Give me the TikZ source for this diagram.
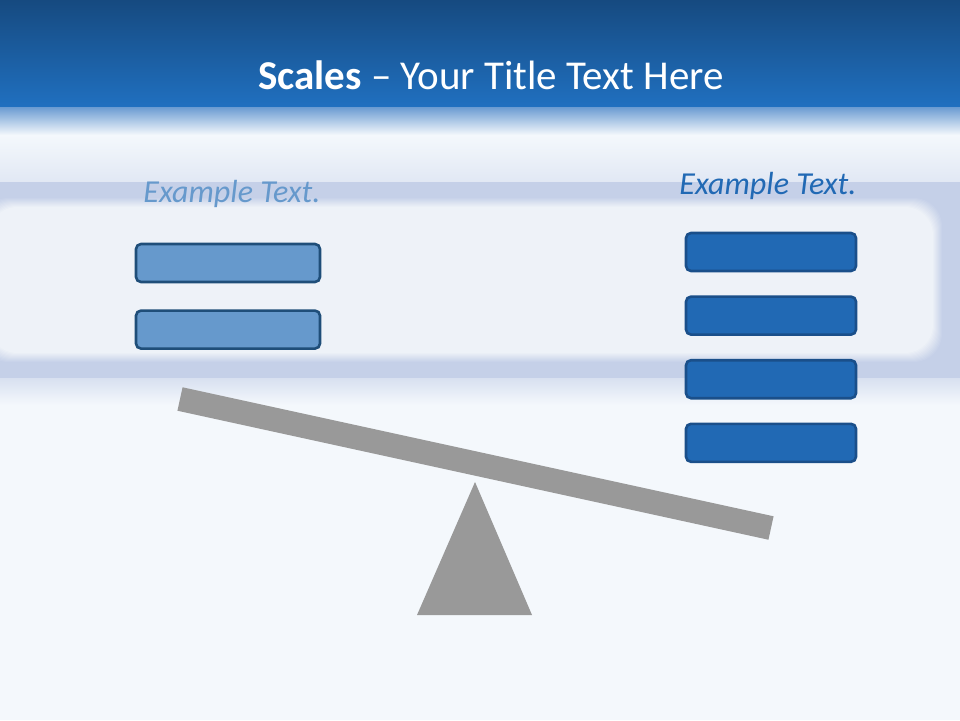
\documentclass[tikz,border=0pt]{standalone}
\usepackage{fontspec}
\setmainfont{Carlito}
\usetikzlibrary{positioning}
\definecolor{bandtop}{HTML}{164A80}
\definecolor{bandbot}{HTML}{2070C0}
\definecolor{paper}{HTML}{F4F8FC}
\definecolor{lilac}{HTML}{C5D0E8}
\definecolor{inset}{HTML}{EEF2F8}
\definecolor{lightfill}{HTML}{6699CC}
\definecolor{lightline}{HTML}{1F4E79}
\definecolor{darkfill}{HTML}{2169B4}
\definecolor{darkline}{HTML}{1A4F8A}
\definecolor{beamgrey}{HTML}{999999}
\begin{document}
\begin{tikzpicture}[
    x=1pt, y=-1pt,
    node distance=23pt,
    weight/.style={rectangle, rounded corners=5pt, line width=2.6pt, minimum width=184pt, minimum height=38pt, inner sep=0pt},
    lightweight/.style={weight, draw=lightline, fill=lightfill},
    darkweight/.style={weight, draw=darkline, fill=darkfill, minimum width=170pt},
    caption/.style={font=\fontsize{32}{36}\selectfont\itshape},
  ]
    % background
    \useasboundingbox (0,0) rectangle (960,720);
    \fill[paper] (0,0) rectangle (960,720);
    \shade[top color=bandtop, bottom color=bandbot] (0,0) rectangle (960,107);
    \shade[top color=bandbot!55!lilac, bottom color=paper] (0,107) rectangle (960,135);
    \shade[top color=paper, bottom color=lilac!40!paper] (0,135) rectangle (960,182);
    \fill[lilac] (0,182) rectangle (960,378);
    \shade[top color=lilac!60!paper, bottom color=paper] (0,378) rectangle (960,405);
    \foreach \i in {0,...,9}
      \fill[inset!\the\numexpr 10+10*\i\relax!lilac, rounded corners=28pt] (-20+\i,198+\i) rectangle (942-\i,362-\i);
    % title
    \node[text=white, font=\fontsize{41}{46}\selectfont] (title) at (491,75) {\textbf{Scales} -- Your Title Text Here};
    % left pan
    \node[caption, text=lightfill] (lefttext) at (232,194) {Example Text.};
    \node[lightweight] (l1) at (228,263) {};
    \node[lightweight, below=26pt of l1] (l2) {};
    % right pan
    \node[caption, text=darkfill] (righttext) at (768,186) {Example Text.};
    \node[darkweight] (r1) at (771,252) {};
    \node[darkweight, below=of r1] (r2) {};
    \node[darkweight, below=of r2] (r3) {};
    \node[darkweight, below=of r3] (r4) {};
    % seesaw
    \fill[beamgrey] (475,482) -- (532,615) -- (417,615) -- cycle;
    \draw[beamgrey, line width=24pt] (180,399) -- (771,528);
  \end{tikzpicture}
\end{document}
